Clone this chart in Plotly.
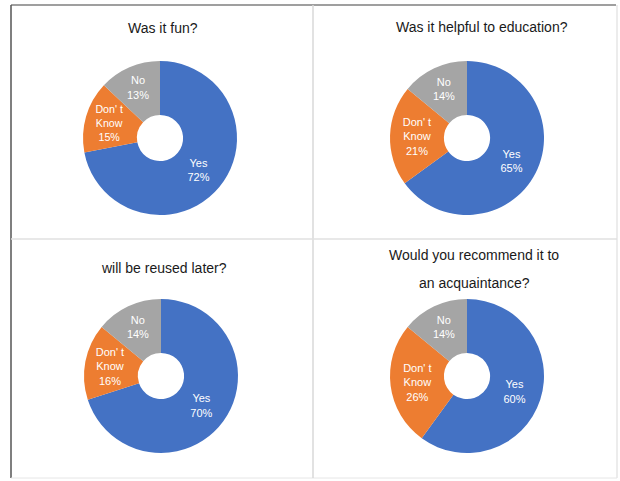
import plotly.graph_objects as go

W, H = 620, 481

categories = ["Yes", "Don' t<br>Know", "No"]
titles = ["Was it fun?", "Was it helpful to education?",
          "will be reused later?", "Would you recommend it to", "an acquaintance?"]
fun = [72, 15, 13]
education = [65, 21, 14]
reused = [70, 16, 14]
recommend = [60, 26, 14]
series = [fun, education, reused, recommend]

colors = ["#4472C4", "#ED7D31", "#A5A5A5"]

# pie centres (px) and radius
centres = [(160, 138), (467, 138), (161, 376), (467, 376)]
R = 77
title_pos = [(163, 28), (482, 27), (164, 268), (474, 255), (474, 283)]

fig = go.Figure()
for vals, (cx, cy) in zip(series, centres):
    fig.add_trace(go.Pie(
        labels=categories, values=vals, sort=False, direction="clockwise",
        rotation=0, hole=0.3,
        marker=dict(colors=colors, line=dict(width=0)),
        texttemplate="%{label}<br>%{value}%", textposition="inside",
        insidetextorientation="horizontal",
        textfont=dict(color="white", size=11, family="Liberation Sans"),
        domain=dict(x=[(cx - R) / W, (cx + R) / W],
                    y=[1 - (cy + R) / H, 1 - (cy - R) / H]),
        showlegend=False, hoverinfo="label+percent",
    ))

annotations = []
for t, (tx, ty) in zip(titles, title_pos):
    annotations.append(dict(text=t, x=tx / W, y=1 - ty / H, xref="paper", yref="paper",
                            showarrow=False, xanchor="center", yanchor="middle",
                            font=dict(size=14, color="#1a1a1a", family="Liberation Sans")))

def px_line(x0, y0, x1, y1, color, width=1):
    return dict(type="line", xref="paper", yref="paper",
                x0=x0 / W, y0=1 - y0 / H, x1=x1 / W, y1=1 - y1 / H,
                line=dict(color=color, width=width))

shapes = [
    px_line(11, 5, 616, 5, "#7f7f7f", 1.5),
    px_line(11, 5, 11, 478, "#555555", 1.5),
    px_line(617, 5, 617, 478, "#d9d9d9", 1),
    px_line(11, 478, 617, 478, "#e6e6e6", 1),
    px_line(313, 5, 313, 478, "#d9d9d9", 1.5),
    px_line(11, 239, 617, 239, "#e0e0e0", 1.5),
]

fig.update_layout(width=W, height=H, margin=dict(l=0, r=0, t=0, b=0),
                  paper_bgcolor="white", plot_bgcolor="white",
                  annotations=annotations, shapes=shapes)
fig.write_html("out.html")
